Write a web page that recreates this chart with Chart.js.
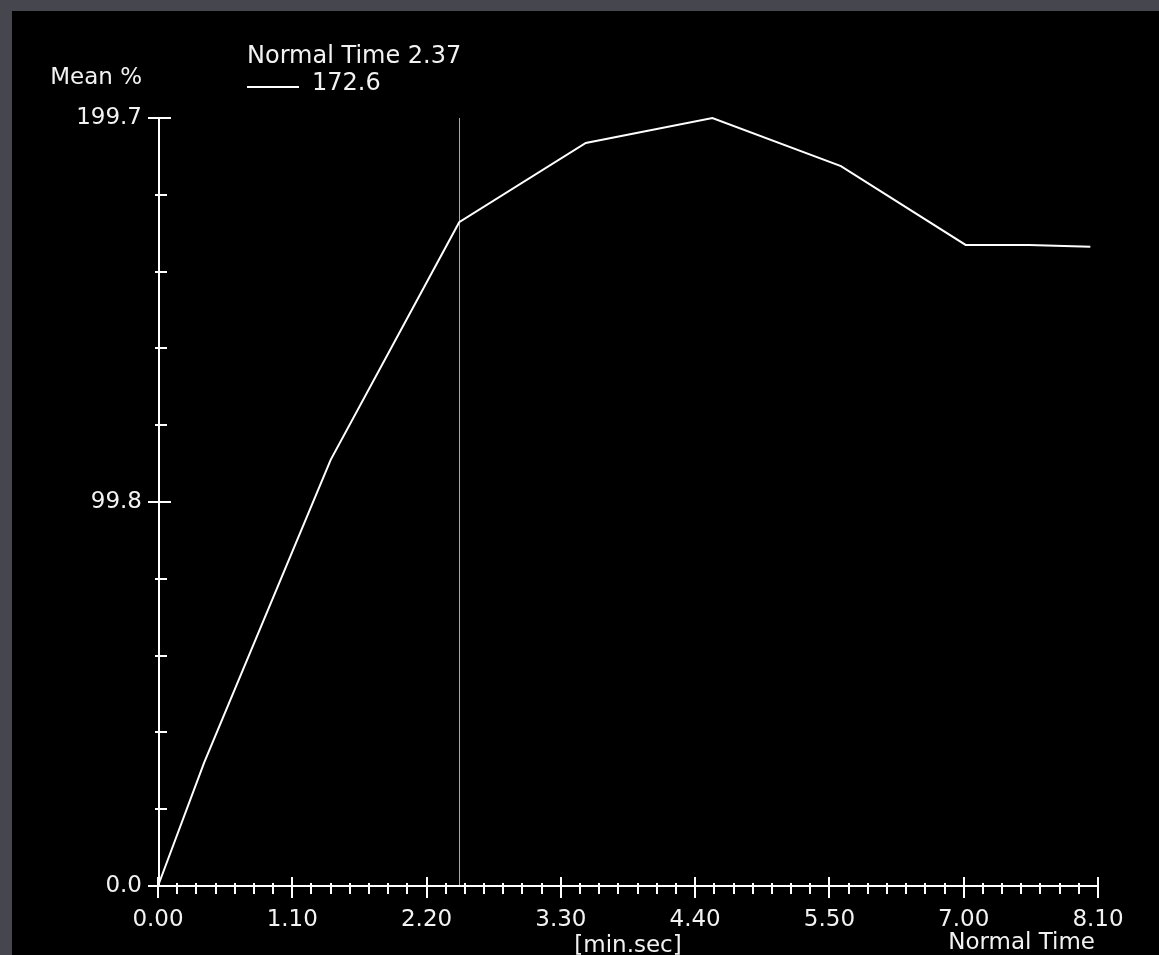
<!DOCTYPE html>
<html>
<head>
<meta charset="utf-8">
<script src="https://cdn.jsdelivr.net/npm/chart.js@4.4.1/dist/chart.umd.min.js"></script>
<style>
  html, body { margin: 0; padding: 0; background: #46464f; width: 1159px; height: 955px; overflow: hidden; }
  #frame { position: absolute; left: 12px; top: 11px; width: 1147px; height: 944px; background: #000; }
  canvas { display: block; }
</style>
</head>
<body>
<div id="frame"><canvas id="chart" width="1147" height="944"></canvas></div>
<script>
// Mean % over time, time in seconds (axis labels shown as min.sec)
const TIME_SEC = [0, 24, 90, 157, 223, 289, 356, 421, 454, 486];
const MEAN_PCT = [0, 32.0, 110.8, 172.6, 193.2, 199.7, 187.2, 166.7, 166.7, 166.2];

const X_MAX = 490;
const X_LABEL_STEP = 70;
const X_MINOR_STEP = 10;

const Y_MAX = 199.7;
const Y_TICKS = [0, 19.97, 39.94, 59.91, 79.88, 99.85, 119.82, 139.79, 159.76, 179.73, 199.7];
const Y_MAJOR = [0, 99.85, 199.7];
const Y_MAJOR_TEXT = ["0.0", "99.8", "199.7"];

const CURSOR_TIME = 157;
const CURSOR_VALUE = 172.6;

const TEXT = "#f2f2f2";
const FONT = "'DejaVu Sans', sans-serif";
const SIZE = 23;

function minSec(v) {
  const m = Math.floor(v / 60);
  const s = Math.round(v % 60);
  return m + "." + String(s).padStart(2, "0");
}

// ── Axes, tick marks, cursor and free text ──────────────────────────────

const axesPlugin = {
  id: "axes",
  beforeDatasetsDraw(chart) {
    const { ctx, chartArea: a, scales: { x } } = chart;
    const cx = Math.round(x.getPixelForValue(CURSOR_TIME)) + 0.5;
    ctx.save();
    ctx.strokeStyle = "#a8a8a8";
    ctx.lineWidth = 1;
    ctx.beginPath();
    ctx.moveTo(cx, a.top);
    ctx.lineTo(cx, a.bottom);
    ctx.stroke();
    ctx.restore();
  },
  afterDatasetsDraw(chart) {
    const { ctx, chartArea: a, scales: { x, y } } = chart;
    const ax = a.left + 1;
    const ay = a.bottom;
    ctx.save();
    ctx.strokeStyle = "#ffffff";
    ctx.lineWidth = 2;
    ctx.beginPath();
    // axis lines
    ctx.moveTo(ax, a.top);
    ctx.lineTo(ax, ay);
    ctx.moveTo(ax, ay);
    ctx.lineTo(Math.round(x.getPixelForValue(X_MAX)), ay);
    // y ticks
    y.ticks.forEach(t => {
      const py = Math.round(y.getPixelForValue(t.value));
      const major = Y_MAJOR.includes(t.value);
      ctx.moveTo(ax - (major ? 11 : 4), py);
      ctx.lineTo(ax + (major ? 12 : 8), py);
    });
    // x ticks
    x.ticks.forEach(t => {
      const px = Math.round(x.getPixelForValue(t.value));
      const major = t.value % X_LABEL_STEP === 0;
      ctx.moveTo(px, ay - (major ? 9 : 3));
      ctx.lineTo(px, ay + (major ? 12 : 8));
    });
    ctx.stroke();

    // legend line
    ctx.beginPath();
    ctx.moveTo(235, 76);
    ctx.lineTo(287, 76);
    ctx.stroke();

    ctx.fillStyle = TEXT;
    ctx.textBaseline = "middle";
    ctx.font = SIZE + "px " + FONT;
    ctx.textAlign = "right";
    ctx.fillText("Mean %", 130, 67);
    ctx.fillText("Normal Time", 1083, 932);
    ctx.textAlign = "left";
    ctx.font = "24px " + FONT;
    ctx.fillText("Normal Time " + minSec(CURSOR_TIME), 235, 46);
    ctx.fillText(CURSOR_VALUE.toFixed(1), 300, 73);
    ctx.restore();
  }
};

new Chart(document.getElementById("chart"), {
  type: "line",
  data: {
    datasets: [{
      data: TIME_SEC.map((t, i) => ({ x: t, y: MEAN_PCT[i] })),
      borderColor: "#ffffff",
      borderWidth: 2,
      pointRadius: 0,
      tension: 0,
      clip: 4,
    }]
  },
  options: {
    responsive: false,
    animation: false,
    layout: { padding: { left: 0, top: 107, right: 61, bottom: 0 } },
    plugins: { legend: { display: false }, tooltip: { enabled: false } },
    scales: {
      x: {
        type: "linear",
        min: 0,
        max: X_MAX,
        grid: { display: false, drawTicks: false },
        border: { display: false },
        ticks: {
          stepSize: X_MINOR_STEP,
          autoSkip: false,
          maxRotation: 0,
          padding: 20,
          color: TEXT,
          font: { family: FONT, size: SIZE },
          callback: v => (v % X_LABEL_STEP === 0 ? minSec(v) : "")
        },
        title: {
          display: true,
          text: "[min.sec]",
          color: TEXT,
          font: { family: FONT, size: SIZE, lineHeight: 1 },
          padding: { top: 0, bottom: -3 }
        },
        afterFit(s) { s.height = 69; }
      },
      y: {
        min: 0,
        max: Y_MAX,
        grid: { display: false, drawTicks: false },
        border: { display: false },
        afterBuildTicks(s) { s.ticks = Y_TICKS.map(v => ({ value: v })); },
        ticks: {
          autoSkip: false,
          padding: 16,
          color: TEXT,
          font: { family: FONT, size: SIZE },
          callback: v => {
            const i = Y_MAJOR.indexOf(v);
            return i >= 0 ? Y_MAJOR_TEXT[i] : "";
          }
        },
        afterFit(s) { s.width = 146; }
      }
    }
  },
  plugins: [axesPlugin]
});
</script>
</body>
</html>
